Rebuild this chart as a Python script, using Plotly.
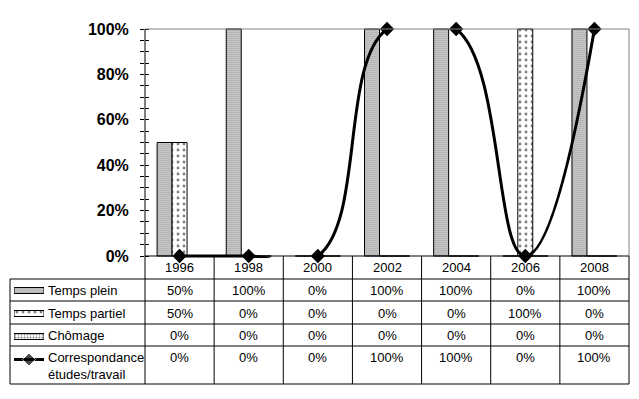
import plotly.graph_objects as go

# ---------------- data ----------------
years = ['1996', '1998', '2000', '2002', '2004', '2006', '2008']
temps_plein = [0.5, 1.0, 0.0, 1.0, 1.0, 0.0, 1.0]
temps_partiel = [0.5, 0.0, 0.0, 0.0, 0.0, 1.0, 0.0]
chomage = [0.0, 0.0, 0.0, 0.0, 0.0, 0.0, 0.0]
correspondance = [0.0, 0.0, 0.0, 1.0, 1.0, 0.0, 1.0]
series_names = ['Temps plein', 'Temps partiel', 'Chômage', 'Correspondance<br>études/travail']
y_ticks = [0, 0.2, 0.4, 0.6, 0.8, 1.0]
y_ticklabels = ['0%', '20%', '40%', '60%', '80%', '100%']

# ---------------- geometry helpers (page pixels -> paper) ----------------
OFF = 8                      # default body margin of the html page
W, H = 639 - 2 * OFF, 399 - 2 * OFF
def fx(p):
    return (p - OFF) / W
def fy(p):
    return 1 - (p - OFF) / H

X0, X1 = 145, 629        # plot area left / right (px)
YT, YB = 29, 256         # 100% and 0% (px)
PADPX = 2
pad = PADPX / (YB - YT)
row_lines = [279, 301, 324, 346, 384]
TABLE_LEFT = 10
FONT = 'Liberation Sans, Arial, sans-serif'

patterns = [
    dict(shape='.', size=2, solidity=0.6, fgcolor='black', bgcolor='white'),
    dict(shape='.', size=6, solidity=0.18, fgcolor='black', bgcolor='white'),
    dict(shape='.', size=3, solidity=0.3, fgcolor='black', bgcolor='white'),
]

fig = go.Figure()
bar_series = [temps_plein, temps_partiel, chomage]
for name, vals, pat in zip(series_names[:3], bar_series, patterns):
    fig.add_trace(go.Bar(
        x=years, y=vals, name=name,
        marker=dict(color='white', line=dict(color='black', width=1), pattern=pat),
        xaxis='x', yaxis='y', hoverinfo='skip'))

# smoothed line (clipped to plot area) + markers (not clipped)
fig.add_trace(go.Scatter(
    x=years, y=correspondance, mode='lines',
    line=dict(color='black', width=3, shape='spline', smoothing=1.3),
    cliponaxis=True, xaxis='x', yaxis='y', hoverinfo='skip'))
fig.add_trace(go.Scatter(
    x=years, y=correspondance, mode='markers',
    marker=dict(symbol='diamond', size=11, color='black'),
    cliponaxis=False, xaxis='x', yaxis='y', hoverinfo='skip'))

# dummy trace for the inside-tick overlay axis
fig.add_trace(go.Scatter(x=[years[0]], y=[0], mode='markers', marker=dict(opacity=0),
                         xaxis='x', yaxis='y2', hoverinfo='skip'))

# legend keys inside the table
key_rows = [0, 1, 2]
fig.add_trace(go.Bar(
    y=key_rows, x=[1, 1, 1], orientation='h', width=0.26,
    marker=dict(color='white', line=dict(color='black', width=1),
                pattern=dict(shape=[p['shape'] for p in patterns],
                             size=[p['size'] for p in patterns],
                             solidity=[p['solidity'] for p in patterns],
                             fgcolor='black', bgcolor='white')),
    xaxis='x3', yaxis='y3', hoverinfo='skip'))
fig.add_trace(go.Scatter(
    x=[0, 0.5, 1], y=[3, 3, 3], mode='lines+markers',
    line=dict(color='black', width=3),
    marker=dict(symbol='diamond', size=[0, 10, 0], color='black'),
    cliponaxis=False, xaxis='x3', yaxis='y3', hoverinfo='skip'))

ydom = [fy(YB) - PADPX / H, fy(YT) + PADPX / H]
yrange = [-pad, 1 + pad]

fig.update_layout(
    width=W, height=H,
    margin=dict(l=0, r=0, t=0, b=0, pad=0, autoexpand=False),
    paper_bgcolor='white', plot_bgcolor='rgba(0,0,0,0)',
    showlegend=False,
    barmode='group', bargap=0.35, bargroupgap=0,
    font=dict(family=FONT, size=13, color='black'),
    xaxis=dict(domain=[fx(X0), fx(X1)], type='category', range=[-0.5, 6.5],
               showticklabels=False, ticks='', showgrid=False, zeroline=False,
               showline=False, fixedrange=True, automargin=False),
    yaxis=dict(domain=ydom, range=yrange, tickvals=y_ticks, ticktext=y_ticklabels,
               ticks='outside', ticklen=4, tickcolor='black', tickwidth=1,
               minor=dict(ticks='outside', dtick=0.05, tick0=0, ticklen=4,
                          tickcolor='black', tickwidth=1, showgrid=False),
               tickfont=dict(family=FONT, size=16, color='black', weight='bold'),
               ticklabelstandoff=8, automargin=False,
               showgrid=False, zeroline=False, showline=False, fixedrange=True),
    yaxis2=dict(overlaying='y', range=yrange, tickvals=y_ticks, showticklabels=False,
                ticks='inside', ticklen=4, tickcolor='black', tickwidth=1,
                minor=dict(ticks='inside', dtick=0.05, tick0=0, ticklen=4,
                           tickcolor='black', tickwidth=1, showgrid=False),
                automargin=False,
                showgrid=False, zeroline=False, showline=False, fixedrange=True),
    xaxis3=dict(domain=[fx(14), fx(44)], range=[0, 1], visible=False, fixedrange=True,
                automargin=False),
    yaxis3=dict(domain=[fy(279 + 4 * 23), fy(279)], range=[3.5, -0.5], visible=False,
                fixedrange=True, anchor='x3', automargin=False),
)
fig.layout.xaxis3.anchor = 'y3'

shapes = []
def pline(x0, y0, x1, y1, color='black', width=1):
    shapes.append(dict(type='line', xref='paper', yref='paper',
                       x0=x0, x1=x1, y0=fy(y0), y1=fy(y1),
                       line=dict(color=color, width=width)))

# plot-area border (grey top & right)
pline(fx(X0), YT, fx(X1), YT, color='#808080')
pline(fx(X1), YT, fx(X1), YB, color='#808080')
# x axis line at 0 and y axis line (extends through table)
pline(fx(X0), YB, fx(X1), YB)
pline(fx(X0), YT, fx(X0), row_lines[-1])
# table horizontal lines
for r in row_lines:
    pline(fx(TABLE_LEFT), r, fx(X1), r)
# table left & right edges
pline(fx(TABLE_LEFT), row_lines[0], fx(TABLE_LEFT), row_lines[-1])
pline(fx(X1), YB, fx(X1), row_lines[-1])
# category separators
for i in range(len(years) - 1):
    shapes.append(dict(type='line', xref='x', yref='paper', x0=i + 0.5, x1=i + 0.5,
                       y0=fy(YB), y1=fy(row_lines[-1]), line=dict(color='black', width=1)))
fig.update_layout(shapes=shapes)

ann = []
def pct(v):
    return f"{round(v * 100)}%"
# header years (category index positions on the x axis)
for i, yr in enumerate(years):
    ann.append(dict(x=i, xref='x', y=fy(267), yref='paper', text=yr, showarrow=False,
                    xanchor='center', yanchor='middle', font=dict(size=13)))
row_centers = [290, 313, 335, 357]
all_series = [temps_plein, temps_partiel, chomage, correspondance]
for rc, vals in zip(row_centers, all_series):
    for i, v in enumerate(vals):
        ann.append(dict(x=i, xref='x', y=fy(rc), yref='paper', text=pct(v), showarrow=False,
                        xanchor='center', yanchor='middle', font=dict(size=13)))
# legend labels
for rc, name in zip(row_centers[:3], series_names[:3]):
    ann.append(dict(x=fx(46), xref='paper', y=fy(rc), yref='paper', text=name, showarrow=False,
                    xanchor='left', yanchor='middle', font=dict(size=13)))
ann.append(dict(x=fx(46), xref='paper', y=fy(348), yref='paper', text=series_names[3],
                showarrow=False, xanchor='left', yanchor='top', align='left',
                font=dict(size=13)))
fig.update_layout(annotations=ann)

fig.write_html("out.html")
